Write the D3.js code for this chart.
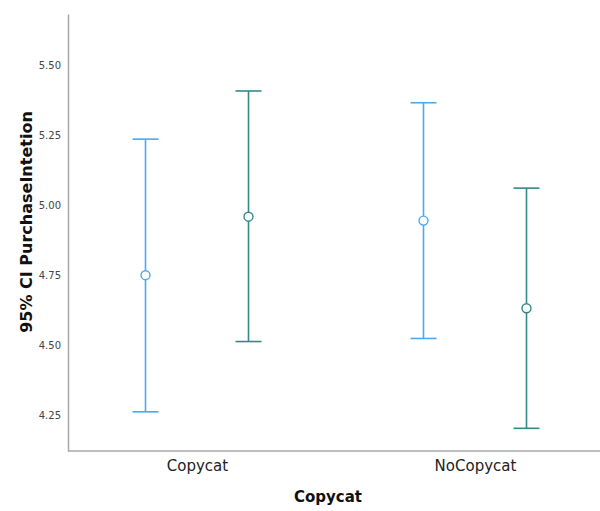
<!DOCTYPE html>
<html>
<head>
<meta charset="utf-8">
<script src="https://cdn.jsdelivr.net/npm/d3@7"></script>
<style>
  body { margin: 0; background: #fff; }
  text { font-family: "DejaVu Sans", sans-serif; }
</style>
</head>
<body>
<figure id="chart" style="margin:0"></figure>
<script>
// categories on the x axis and the two clustered series
const categories = ['Copycat', 'NoCopycat'];
const series = ['Series 1', 'Series 2'];

// means and 95% CI bounds
const mean1 = [4.749, 4.944];
const lower1 = [4.261, 4.523];
const upper1 = [5.235, 5.365];
const mean2 = [4.958, 4.631];
const lower2 = [4.512, 4.202];
const upper2 = [5.407, 5.060];

const yTicks = [4.25, 4.50, 4.75, 5.00, 5.25, 5.50];

const width = 600;
const height = 511;
const plotLeft = 68, plotTop = 14, plotBottom = 451, plotRight = 600;
const colors = ['#47aaf2', '#338a86'];

const rows = [];
categories.forEach((c, i) => {
  rows.push({cat: c, s: series[0], mean: mean1[i], lo: lower1[i], hi: upper1[i]});
  rows.push({cat: c, s: series[1], mean: mean2[i], lo: lower2[i], hi: upper2[i]});
});

const svg = d3.select('#chart')
  .append('svg')
  .attr('width', width)
  .attr('height', height);

const y = d3.scaleLinear()
  .domain([4.121, 5.682])
  .range([plotBottom, plotTop]);

const x = d3.scalePoint()
  .domain(categories)
  .range([197, 475]);

const xSub = d3.scalePoint()
  .domain(series)
  .range([-51.5, 51.5]);

const color = d3.scaleOrdinal().domain(series).range(colors);

// y axis
const yAxis = svg.append('g')
  .attr('transform', 'translate(' + plotLeft + ',0)')
  .call(d3.axisLeft(y).tickValues(yTicks).tickFormat(d3.format('.2f')).tickSize(0).tickPadding(7));
yAxis.select('.domain').attr('stroke', '#a8a8a8').attr('stroke-width', 1.5);
yAxis.selectAll('text').attr('fill', '#444').style('font-size', '10px');

// x axis
const xAxis = svg.append('g')
  .attr('transform', 'translate(0,' + plotBottom + ')')
  .call(d3.axisBottom(x).tickSize(0).tickPadding(9));
xAxis.select('.domain').remove();
xAxis.append('line')
  .attr('x1', plotLeft).attr('x2', plotRight)
  .attr('stroke', '#a8a8a8').attr('stroke-width', 1.5);
xAxis.selectAll('text').attr('fill', '#222').style('font-size', '15px');

// error bars
const bars = svg.selectAll('g.bar')
  .data(rows)
  .enter()
  .append('g')
  .attr('class', 'bar')
  .attr('transform', d => 'translate(' + (x(d.cat) + xSub(d.s)) + ',0)')
  .attr('stroke', d => color(d.s))
  .attr('stroke-width', 1.6)
  .attr('fill', 'none');

bars.append('line')
  .attr('y1', d => y(d.lo))
  .attr('y2', d => y(d.hi));

bars.append('line')
  .attr('x1', -13).attr('x2', 13)
  .attr('y1', d => y(d.hi)).attr('y2', d => y(d.hi));

bars.append('line')
  .attr('x1', -13).attr('x2', 13)
  .attr('y1', d => y(d.lo)).attr('y2', d => y(d.lo));

bars.append('circle')
  .attr('cy', d => y(d.mean))
  .attr('r', 4.5)
  .attr('stroke-width', 1.4)
  .attr('fill', '#fff');

// axis titles
svg.append('text')
  .attr('transform', 'translate(32,' + 222 + ') rotate(-90)')
  .attr('text-anchor', 'middle')
  .style('font-size', '16px')
  .style('font-weight', 'bold')
  .attr('fill', '#111')
  .text('95% CI PurchaseIntetion');

svg.append('text')
  .attr('x', 328)
  .attr('y', 502)
  .attr('text-anchor', 'middle')
  .style('font-size', '15px')
  .style('font-weight', 'bold')
  .attr('fill', '#111')
  .text('Copycat');
</script>
</body>
</html>
